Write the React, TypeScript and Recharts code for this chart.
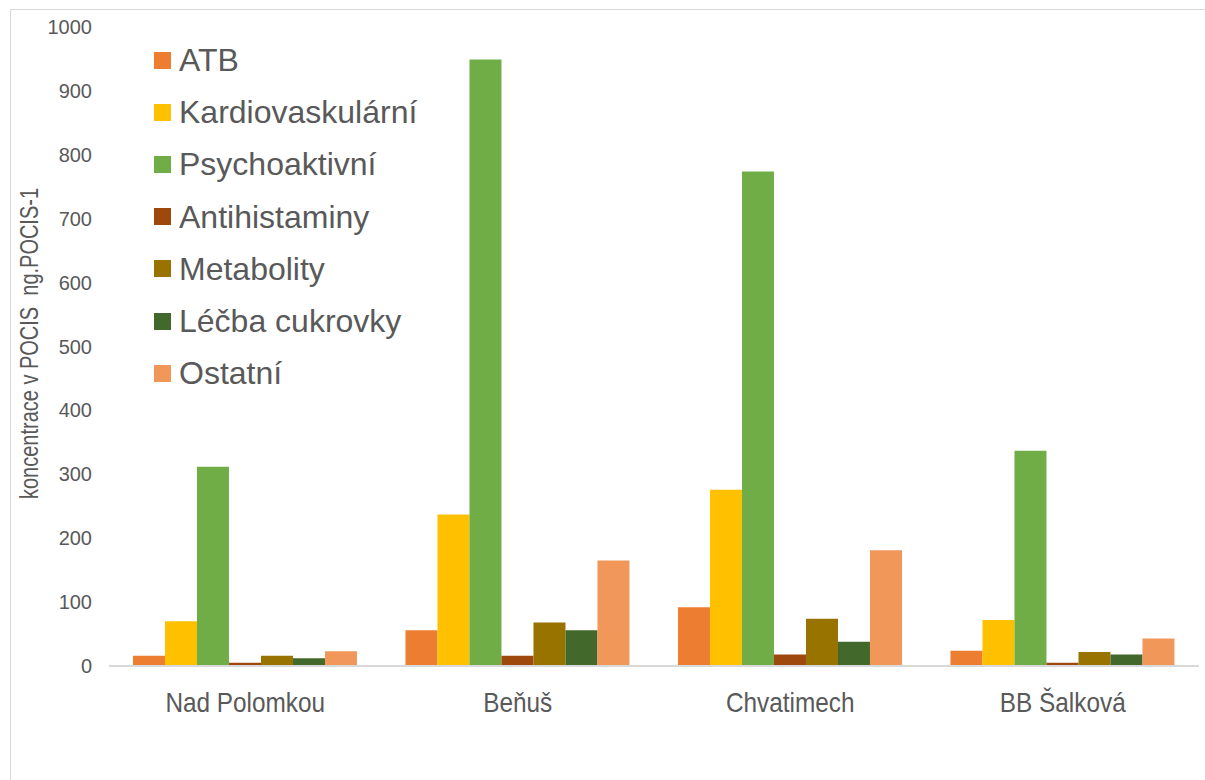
import React from 'react';
import { BarChart, Bar, XAxis, YAxis, Legend } from 'recharts';

// Sampling sites along the river
const sites = ['Nad Polomkou', 'Beňuš', 'Chvatimech', 'BB Šalková'];

// Concentrations per pharmaceutical group (ng per POCIS), one value per site
const atb = [16, 56, 92, 24];
const kardiovaskularni = [70, 237, 276, 72];
const psychoaktivni = [312, 949, 774, 337];
const antihistaminy = [5, 16, 18, 5];
const metabolity = [16, 68, 74, 22];
const lecbaCukrovky = [12, 56, 38, 18];
const ostatni = [23, 165, 181, 43];

const yTicks = [0, 100, 200, 300, 400, 500, 600, 700, 800, 900, 1000];

const series = [
  { key: 'atb', name: 'ATB', values: atb, color: '#ED7D31' },
  { key: 'kardio', name: 'Kardiovaskulární', values: kardiovaskularni, color: '#FFC000' },
  { key: 'psycho', name: 'Psychoaktivní', values: psychoaktivni, color: '#70AD47' },
  { key: 'anti', name: 'Antihistaminy', values: antihistaminy, color: '#9E480E' },
  { key: 'metab', name: 'Metabolity', values: metabolity, color: '#997300' },
  { key: 'cukr', name: 'Léčba cukrovky', values: lecbaCukrovky, color: '#43682B' },
  { key: 'ost', name: 'Ostatní', values: ostatni, color: '#F1975A' },
];

const data = sites.map((site, i) => {
  const row: Record<string, string | number> = { site };
  series.forEach((s) => {
    row[s.key] = s.values[i];
  });
  return row;
});

const FONT = '"Liberation Sans", Arial, sans-serif';
const TEXT = '#595959';

const XTick = (props: any) => {
  const { x, y, payload } = props;
  return (
    <g transform={`translate(${x},${y}) scale(0.87,1)`}>
      <text x={0} y={0} dy={46} textAnchor="middle" fontSize={28} fill={TEXT} fontFamily={FONT}>
        {payload.value}
      </text>
    </g>
  );
};

const YTick = (props: any) => {
  const { x, y, payload } = props;
  return (
    <text x={x} y={y} dy={7} textAnchor="end" fontSize={20} fill={TEXT} fontFamily={FONT}>
      {payload.value}
    </text>
  );
};

const YTitle = () => (
  <g transform="translate(38,343.5) rotate(-90) scale(0.8,1)">
    <text x={0} y={0} textAnchor="middle" fontSize={25} fill={TEXT} fontFamily={FONT} xmlSpace="preserve">
      {'koncentrace v POCIS  ng.POCIS-1'}
    </text>
  </g>
);

const LegendBox = () => (
  <div style={{ fontFamily: FONT }}>
    {series.map((s) => (
      <div key={s.key} style={{ height: 52.2, display: 'flex', alignItems: 'center' }}>
        <span style={{ width: 17, height: 17, background: s.color, display: 'inline-block', marginRight: 8 }} />
        <span style={{ fontSize: 32, color: TEXT, lineHeight: '32px', whiteSpace: 'nowrap' }}>{s.name}</span>
      </div>
    ))}
  </div>
);

export default function App() {
  return (
    <div style={{ position: 'absolute', left: 0, top: 0, width: 1205, height: 780, overflow: 'hidden', background: '#fff' }}>
      {/* chart frame: only the top and left edges fall inside the view */}
      <div
        style={{
          position: 'absolute',
          left: 10,
          top: 9,
          width: 1195,
          height: 771,
          borderTop: '1px solid #d9d9d9',
          borderLeft: '1px solid #d9d9d9',
        }}
      />
      <div style={{ position: 'absolute', left: 0, top: 0 }}>
        <BarChart
          width={1205}
          height={780}
          data={data}
          margin={{ top: 27, right: 6, bottom: 0, left: 0 }}
          barCategoryGap="8.8%"
          barGap={0}
        >
          <XAxis
            dataKey="site"
            height={114}
            tickSize={0}
            tickMargin={0}
            tick={<XTick />}
            axisLine={{ stroke: '#d9d9d9', strokeWidth: 2 }}
            tickLine={false}
            interval={0}
          />
          <YAxis
            width={109}
            domain={[0, 1000]}
            ticks={yTicks}
            tickSize={0}
            tickMargin={17}
            tick={<YTick />}
            axisLine={false}
            tickLine={false}
            label={{ content: () => <YTitle /> }}
          />
          <Legend
            layout="vertical"
            align="center"
            verticalAlign="middle"
            content={() => <LegendBox />}
            wrapperStyle={{ left: 154, top: 34, width: 320, height: 366 }}
          />
          {series.map((s) => (
            <Bar key={s.key} dataKey={s.key} name={s.name} fill={s.color} isAnimationActive={false} />
          ))}
        </BarChart>
      </div>
    </div>
  );
}
